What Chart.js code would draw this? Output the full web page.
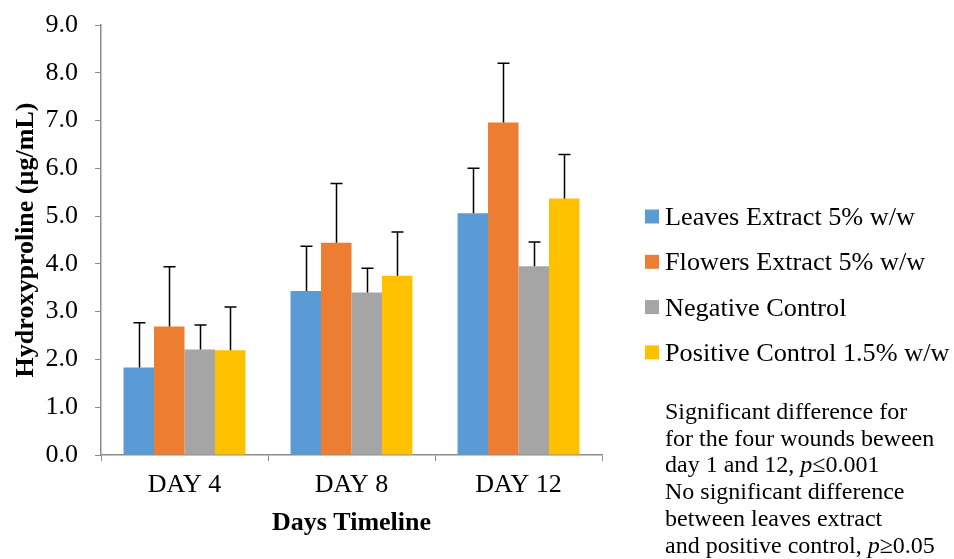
<!DOCTYPE html>
<html>
<head>
<meta charset="utf-8">
<script src="https://cdn.jsdelivr.net/npm/chart.js@4.4.1/dist/chart.umd.min.js"></script>
<style>
  html, body { margin: 0; padding: 0; background: #fff; }
  #wrap { width: 954px; height: 559px; position: relative; }
</style>
</head>
<body>
<div id="wrap"><canvas id="c" width="954" height="559"></canvas></div>
<script>
// Hydroxyproline levels per treatment over the healing timeline
const days = ['DAY 4', 'DAY 8', 'DAY 12'];
const seriesNames = ['Leaves Extract 5% w/w', 'Flowers Extract 5% w/w', 'Negative Control', 'Positive Control 1.5% w/w'];
const leavesMean = [1.83, 3.43, 5.06];
const leavesSD = [0.94, 0.94, 0.94];
const flowersMean = [2.69, 4.44, 6.96];
const flowersSD = [1.25, 1.24, 1.24];
const negativeMean = [2.21, 3.40, 3.95];
const negativeSD = [0.51, 0.51, 0.51];
const positiveMean = [2.19, 3.75, 5.37];
const positiveSD = [0.91, 0.92, 0.92];
const yTicks = [0, 1, 2, 3, 4, 5, 6, 7, 8, 9];
const noteLines = [
  [['Significant difference for', false]],
  [['for the four wounds beween', false]],
  [['day 1 and 12, ', false], ['p', true], ['\u22640.001', false]],
  [['No significant difference', false]],
  [['between leaves extract', false]],
  [['and positive control, ', false], ['p', true], ['\u22650.05', false]]
];

const colors = ['#5B9BD5', '#ED7D31', '#A5A5A5', '#FFC000'];
const means = [leavesMean, flowersMean, negativeMean, positiveMean];
const sds = [leavesSD, flowersSD, negativeSD, positiveSD];
const SERIF = '"Liberation Serif", "Times New Roman", serif';
const AXIS = '#8c8c8c';

// upward-only standard deviation whiskers
const errorBars = {
  id: 'errorBars',
  afterDatasetsDraw(chart) {
    const ctx = chart.ctx;
    const ys = chart.scales.y;
    ctx.save();
    ctx.strokeStyle = '#000';
    ctx.lineWidth = 1.5;
    chart.data.datasets.forEach((ds, i) => {
      const meta = chart.getDatasetMeta(i);
      meta.data.forEach((bar, j) => {
        const top = ys.getPixelForValue(ds.data[j] + ds.sd[j]);
        const base = ys.getPixelForValue(ds.data[j]);
        const x = Math.round(bar.x) + 0.5;
        ctx.beginPath();
        ctx.moveTo(x, base);
        ctx.lineTo(x, top);
        ctx.moveTo(x - 6, top);
        ctx.lineTo(x + 6, top);
        ctx.stroke();
      });
    });
    ctx.restore();
  }
};

// legend and statistics note on the right side
const sidePanel = {
  id: 'sidePanel',
  afterDraw(chart) {
    const ctx = chart.ctx;
    ctx.save();
    ctx.textAlign = 'left';
    ctx.textBaseline = 'alphabetic';
    chart.data.datasets.forEach((ds, i) => {
      const cy = 216.5 + i * 45.3;
      ctx.fillStyle = ds.backgroundColor;
      ctx.fillRect(645, cy - 7, 14, 14);
      ctx.fillStyle = '#000';
      ctx.save();
      ctx.translate(665, cy + 8.5);
      ctx.scale(1.05, 1);
      ctx.font = '25px ' + SERIF;
      ctx.fillText(ds.label, 0, 0);
      ctx.restore();
    });
    ctx.fillStyle = '#000';
    noteLines.forEach((parts, k) => {
      let x = 665;
      const y = 419 + k * 26.7;
      parts.forEach(([txt, ital]) => {
        ctx.font = (ital ? 'italic ' : '') + '24px ' + SERIF;
        ctx.fillText(txt, x, y);
        x += ctx.measureText(txt).width;
      });
    });
    ctx.restore();
  }
};

new Chart(document.getElementById('c'), {
  type: 'bar',
  data: {
    labels: days,
    datasets: seriesNames.map((name, i) => ({
      label: name,
      data: means[i],
      sd: sds[i],
      backgroundColor: colors[i],
      borderWidth: 0,
      categoryPercentage: 0.73,
      barPercentage: 1.0
    }))
  },
  options: {
    responsive: false,
    animation: false,
    layout: { padding: { left: 0, right: 352, top: 25, bottom: 0 } },
    plugins: { legend: { display: false }, tooltip: { enabled: false } },
    scales: {
      x: {
        afterFit: s => { s.height = 104; },
        grid: { display: true, drawOnChartArea: false, tickLength: 6, color: AXIS, offset: true },
        border: { color: AXIS, width: 1.5 },
        ticks: { color: '#000', font: { family: SERIF, size: 26 }, padding: 9 },
        title: { display: true, text: 'Days Timeline', color: '#000',
                 font: { family: SERIF, size: 26, weight: 'bold' }, padding: { top: 0, bottom: 20 } }
      },
      y: {
        min: 0, max: 9,
        afterFit: s => { s.width = 101; s.paddingTop = 0; s.paddingBottom = 0; },
        afterBuildTicks: s => { s.ticks = yTicks.map(v => ({ value: v })); },
        grid: { display: true, drawOnChartArea: false, tickLength: 6, color: AXIS },
        border: { color: AXIS, width: 1.5 },
        ticks: { color: '#000', font: { family: SERIF, size: 26 }, padding: 17,
                 callback: v => Number(v).toFixed(1) },
        title: { display: true, text: 'Hydroxyproline (\u00b5g/mL)', color: '#000',
                 font: { family: SERIF, size: 26, weight: 'bold' }, padding: { top: 11, bottom: 0 } }
      }
    }
  },
  plugins: [errorBars, sidePanel]
});
</script>
</body>
</html>
